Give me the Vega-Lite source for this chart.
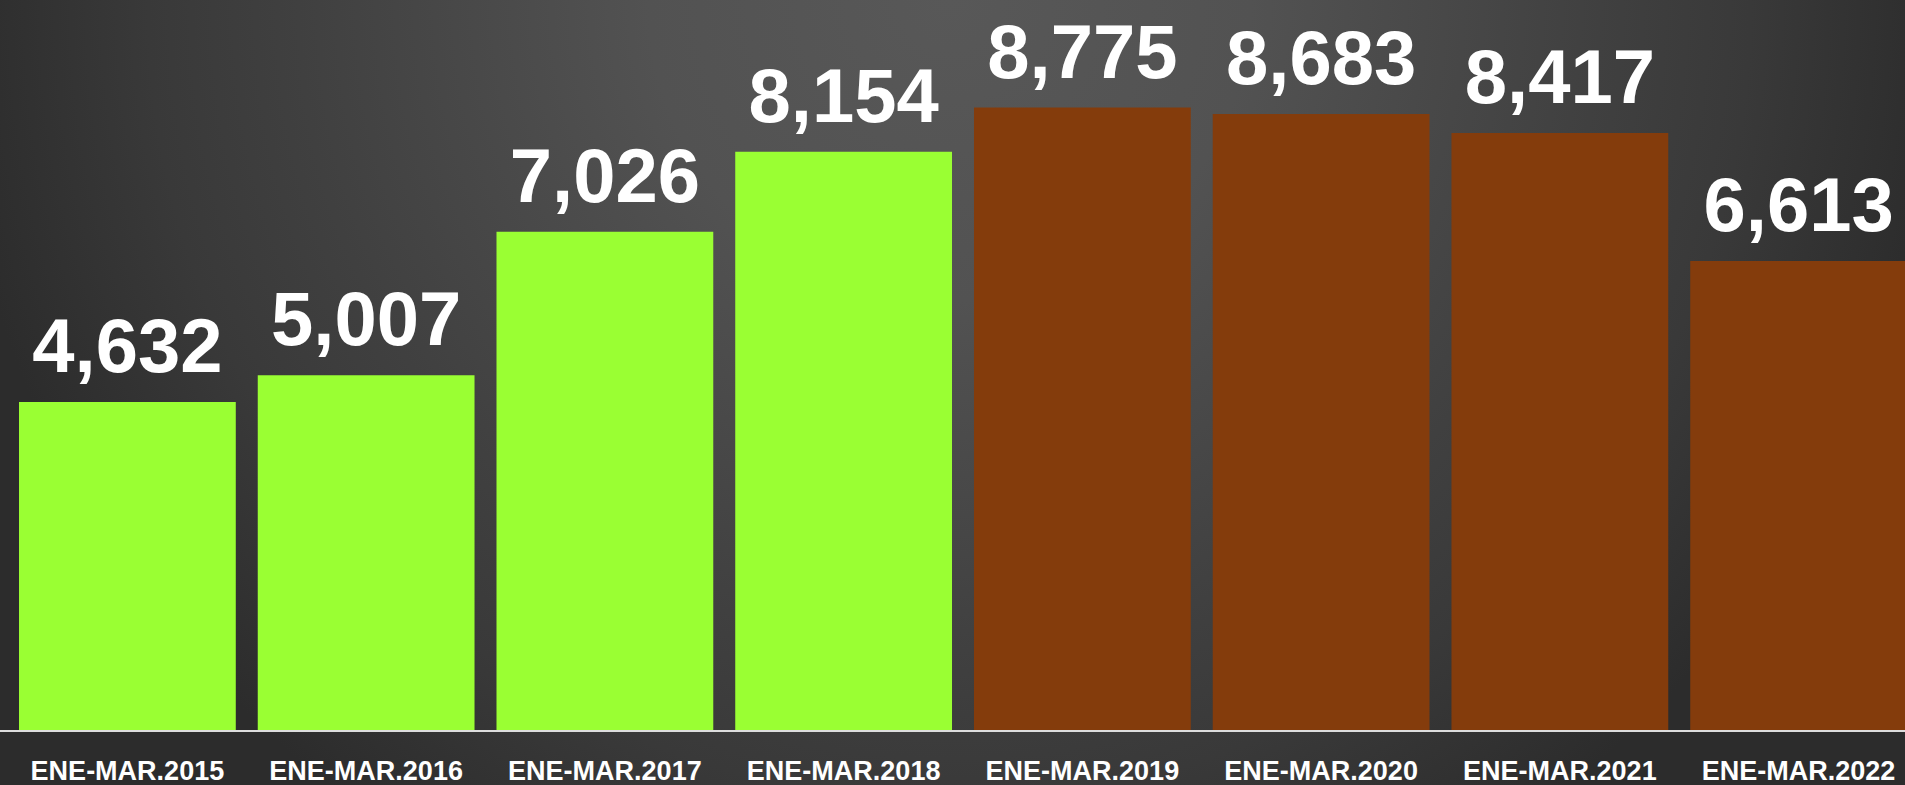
{
  "$schema": "https://vega.github.io/schema/vega-lite/v6.json",
  "width": 1926,
  "height": 785,
  "padding": 0,
  "autosize": {"type": "none"},
  "background": "#2c2c2c",
  "config": {
    "view": {
      "stroke": null,
      "fill": {
        "gradient": "radial",
        "x1": 0.493, "y1": 0.2962, "r1": 0,
        "x2": 0.493, "y2": 0.2962, "r2": 0.52,
        "stops": [
          {"offset": 0, "color": "#585858"},
          {"offset": 0.3, "color": "#525252"},
          {"offset": 0.65, "color": "#404040"},
          {"offset": 0.8, "color": "#393939"},
          {"offset": 1, "color": "#2c2c2c"}
        ]
      }
    }
  },
  "data": {
    "values": [
      {"periodo": "ENE-MAR.2015", "valor": 4632, "grupo": "A"},
      {"periodo": "ENE-MAR.2016", "valor": 5007, "grupo": "A"},
      {"periodo": "ENE-MAR.2017", "valor": 7026, "grupo": "A"},
      {"periodo": "ENE-MAR.2018", "valor": 8154, "grupo": "A"},
      {"periodo": "ENE-MAR.2019", "valor": 8775, "grupo": "B"},
      {"periodo": "ENE-MAR.2020", "valor": 8683, "grupo": "B"},
      {"periodo": "ENE-MAR.2021", "valor": 8417, "grupo": "B"},
      {"periodo": "ENE-MAR.2022", "valor": 6613, "grupo": "B"}
    ]
  },
  "encoding": {
    "x": {
      "field": "periodo",
      "type": "nominal",
      "sort": null,
      "scale": {"paddingInner": 0.092, "paddingOuter": 0.0796},
      "axis": {
        "title": null,
        "orient": "bottom",
        "offset": -54,
        "domain": false,
        "ticks": false,
        "tickSize": 0,
        "labelAngle": 0,
        "labelPadding": 48,
        "labelBaseline": "alphabetic",
        "labelFont": "Liberation Sans",
        "labelFontSize": 27,
        "labelFontWeight": "bold",
        "labelColor": "#ffffff",
        "labelOverlap": false,
        "labelBound": false,
        "labelFlush": false,
        "labelLimit": 0
      }
    }
  },
  "layer": [
    {
      "mark": {"type": "bar"},
      "encoding": {
        "y": {
          "field": "valor",
          "type": "quantitative",
          "scale": {"domain": [-760, 10288], "zero": false, "nice": false},
          "axis": null
        },
        "y2": {"datum": 0},
        "color": {
          "field": "grupo",
          "type": "nominal",
          "scale": {"domain": ["A", "B"], "range": ["#9aff33", "#843c0c"]},
          "legend": null
        }
      }
    },
    {
      "mark": {"type": "rule", "color": "#dddddd", "opacity": 0.5, "strokeWidth": 2},
      "encoding": {
        "x": null,
        "y": {"datum": 0, "type": "quantitative"}
      }
    },
    {
      "mark": {
        "type": "text",
        "baseline": "alphabetic",
        "align": "center",
        "dy": -30,
        "font": "Liberation Sans",
        "fontSize": 76,
        "fontWeight": "bold",
        "color": "#ffffff"
      },
      "encoding": {
        "y": {"field": "valor", "type": "quantitative"},
        "text": {"field": "valor", "type": "quantitative", "format": ","}
      }
    }
  ]
}
